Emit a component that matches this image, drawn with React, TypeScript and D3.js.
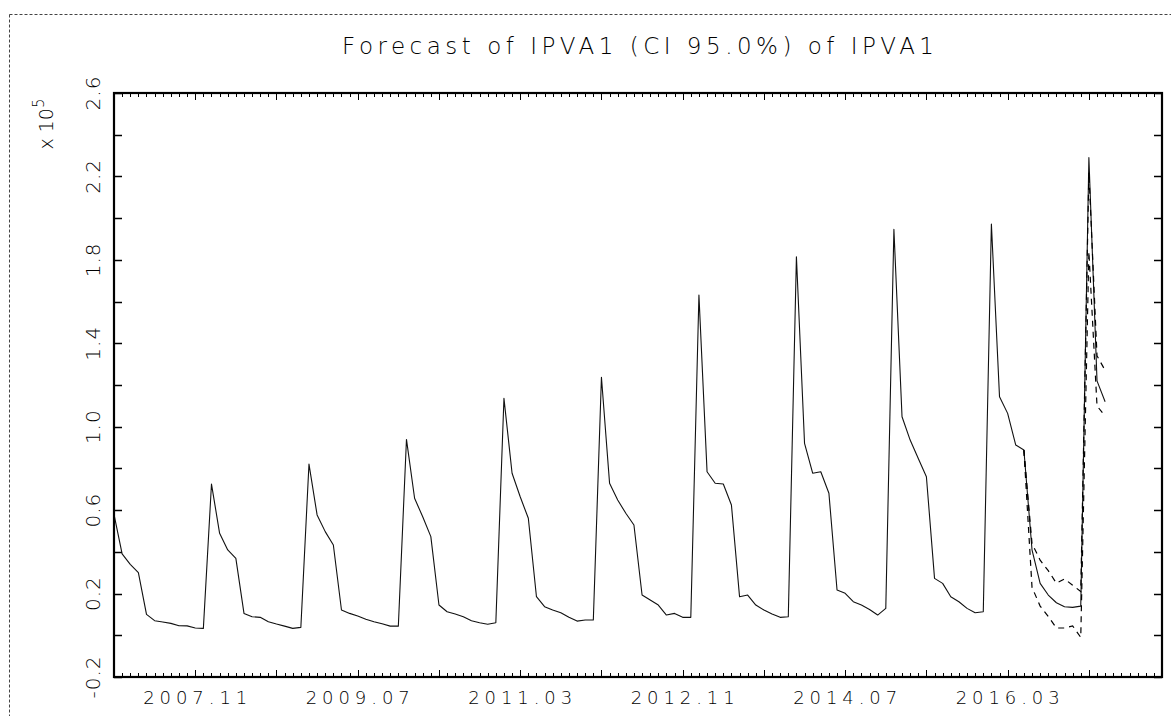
import React from "react";
import * as d3 from "d3";

// ---- data (values in units of 10^5), monthly from 2007.01 ----
const START_YEAR = 2007;
const actualValues = [
  0.58, 0.39, 0.34, 0.30, 0.10, 0.07, 0.064, 0.057, 0.046, 0.045, 0.035, 0.033,
  0.725, 0.489, 0.409, 0.369, 0.105, 0.089, 0.086, 0.065, 0.054, 0.044, 0.033, 0.038,
  0.821, 0.577, 0.497, 0.433, 0.121, 0.105, 0.092, 0.077, 0.065, 0.055, 0.044, 0.044,
  0.939, 0.657, 0.568, 0.473, 0.145, 0.113, 0.102, 0.089, 0.070, 0.060, 0.053, 0.060,
  1.136, 0.777, 0.664, 0.561, 0.185, 0.137, 0.121, 0.108, 0.086, 0.068, 0.073, 0.073,
  1.237, 0.729, 0.649, 0.585, 0.529, 0.193, 0.169, 0.145, 0.097, 0.105, 0.086, 0.086,
  1.631, 0.784, 0.729, 0.725, 0.625, 0.185, 0.193, 0.145, 0.121, 0.102, 0.086, 0.089,
  1.815, 0.920, 0.777, 0.784, 0.681, 0.217, 0.201, 0.161, 0.145, 0.124, 0.097, 0.129,
  1.946, 1.048, 0.936, 0.848, 0.760, 0.273, 0.249, 0.185, 0.161, 0.129, 0.108, 0.113,
  1.972, 1.144, 1.064, 0.912, 0.888,
];
// forecast, starting at the last observed month
const forecastMean = [0.888, 0.41, 0.249, 0.193, 0.156, 0.137, 0.134, 0.14, 2.29, 1.22, 1.12];
const forecastUpper = [0.888, 0.44, 0.36, 0.31, 0.25, 0.27, 0.24, 0.21, 2.22, 1.34, 1.27];
const forecastLower = [0.888, 0.23, 0.14, 0.09, 0.035, 0.035, 0.045, -0.01, 1.84, 1.1, 1.05];

const xTickLabels = ["2007.11", "2009.07", "2011.03", "2012.11", "2014.07", "2016.03"];
const yTickLabels = ["-0.2", "0.2", "0.6", "1.0", "1.4", "1.8", "2.2", "2.6"];
const TITLE = "Forecast of IPVA1 (CI 95.0%) of IPVA1";

const W = 1171;
const H = 716;
const L = 114, R = 1162, T = 93, B = 677;
const FONT = "'DejaVu Sans', sans-serif";

function monthIndex(label: string) {
  const [yy, mm] = label.split(".").map(Number);
  return (yy - START_YEAR) * 12 + (mm - 1);
}

export default function App() {
  const x = d3.scaleLinear().domain([0, 129]).range([L, R]);
  const y = d3.scaleLinear().domain([-0.2, 2.6]).range([B, T]);

  const forecastStart = actualValues.length - 1;
  const solid = [
    ...actualValues.map((v, i) => [i, v] as [number, number]),
    ...forecastMean.slice(1).map((v, i) => [forecastStart + 1 + i, v] as [number, number]),
  ];
  const line = d3
    .line<[number, number]>()
    .x((d) => x(d[0]))
    .y((d) => y(d[1]));
  const toPts = (arr: number[]) => arr.map((v, i) => [forecastStart + i, v] as [number, number]);

  const monthTicks = d3.range(0, 130);
  const yTicks = d3.range(0, 15).map((k) => -0.2 + k * 0.2);

  return (
    <svg
      width={W}
      height={H}
      style={{ position: "fixed", left: 0, top: 0, background: "#fff" }}
      fontFamily={FONT}
    >
      <rect x={0} y={0} width={W} height={H} fill="#fff" />
      {/* dotted outer border */}
      <line x1={9.5} y1={14.5} x2={W} y2={14.5} stroke="#444" strokeDasharray="3,2" strokeWidth={1} />
      <line x1={9.5} y1={14.5} x2={9.5} y2={H} stroke="#444" strokeDasharray="3,2" strokeWidth={1} />

      {/* title */}
      <text
        x={(L + R) / 2}
        y={54}
        textAnchor="middle"
        fontSize={23}
        fontWeight={200}
        textLength={592}
        lengthAdjust="spacing"
        fill="#000"
      >
        {TITLE}
      </text>

      {/* x 10^5 */}
      <text transform={`translate(53,124) rotate(-90)`} textAnchor="middle" fontSize={19} fontWeight={200} fill="#000">
        x 10
        <tspan dy={-9} fontSize={15}>
          5
        </tspan>
      </text>

      {/* y tick labels */}
      {yTickLabels.map((t) => (
        <text
          key={t}
          transform={`translate(${100},${y(+t)}) rotate(-90)`}
          textAnchor="middle"
          fontSize={20}
          fontWeight={200}
          letterSpacing={1}
          fill="#000"
        >
          {t}
        </text>
      ))}

      {/* x tick labels */}
      {xTickLabels.map((t) => (
        <text
          key={t}
          x={x(monthIndex(t))}
          y={704}
          textAnchor="middle"
          fontSize={18}
          fontWeight={200}
          textLength={104}
          lengthAdjust="spacing"
          fill="#000"
        >
          {t}
        </text>
      ))}

      {/* x ticks (top & bottom) */}
      {monthTicks.map((m) => {
        const major = m % 10 === 0;
        const len = major ? 7 : 4;
        const xx = Math.round(x(m)) + 0.5;
        return (
          <g key={m} stroke="#000" strokeWidth={1}>
            <line x1={xx} x2={xx} y1={B} y2={B - len} />
            <line x1={xx} x2={xx} y1={T} y2={T + len} />
          </g>
        );
      })}

      {/* y ticks (left & right) */}
      {yTicks.map((v, k) => {
        const yy = Math.round(y(v)) + 0.5;
        return (
          <g key={k} stroke="#000" strokeWidth={1.5}>
            <line x1={L} x2={L + 8} y1={yy} y2={yy} />
            <line x1={R} x2={R - 8} y1={yy} y2={yy} />
          </g>
        );
      })}

      {/* data */}
      <path d={line(solid) || ""} fill="none" stroke="#111" strokeWidth={1.1} strokeLinejoin="round" />
      <path d={line(toPts(forecastUpper)) || ""} fill="none" stroke="#000" strokeWidth={1.2} strokeDasharray="6,5" />
      <path d={line(toPts(forecastLower)) || ""} fill="none" stroke="#000" strokeWidth={1.2} strokeDasharray="6,5" />

      {/* frame */}
      <rect x={L} y={T} width={R - L} height={B - T} fill="none" stroke="#000" strokeWidth={2.2} />
    </svg>
  );
}
